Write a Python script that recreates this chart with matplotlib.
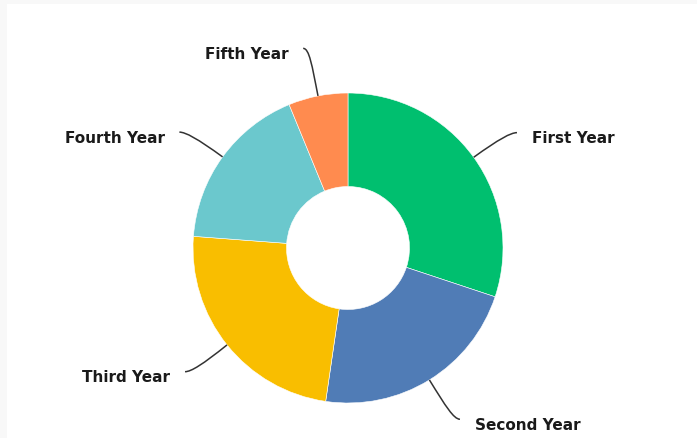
import numpy as np
import matplotlib
matplotlib.use("Agg")
import matplotlib.pyplot as plt
from matplotlib.path import Path
from matplotlib.patches import PathPatch

# ── Data ─────────────────────────────────────────────────────────────────────
LABELS = ["First Year", "Second Year", "Third Year", "Fourth Year", "Fifth Year"]
VALUES = [30.1, 22.2, 23.9, 17.6, 6.2]
COLORS = ["#00bf6f", "#507cb6", "#f9be00", "#6bc8cd", "#ff8b4f"]

# ── Layout (pixel based, R = outer radius) ───────────────────────────────────
W, H, DPI = 697, 438, 100
CX, CY, R_PX, HOLE_PX = 348, 248, 155, 61.5

fig = plt.figure(figsize=(W / DPI, H / DPI), dpi=DPI, facecolor="#f8f8f8")
# white card with a thin grey margin on the top and left
bg = fig.add_axes([7 / W, 0, 1 - 7 / W, (H - 4) / H])
bg.set_facecolor("white")
bg.set_xticks([])
bg.set_yticks([])
for sp in bg.spines.values():
    sp.set_visible(False)

ax = fig.add_axes([0, 0, 1, 1])
ax.set_facecolor("none")
ax.axis("off")

wedges, _ = ax.pie(VALUES, colors=COLORS, startangle=90, counterclock=False,
                   radius=1, wedgeprops=dict(width=1 - HOLE_PX / R_PX,
                                             edgecolor="white", linewidth=0.4))
ax.set_xlim(-CX / R_PX, (W - CX) / R_PX)
ax.set_ylim(-(H - CY) / R_PX, CY / R_PX)
ax.set_aspect("auto")

# ── Curved leader lines + labels ─────────────────────────────────────────────
for w, lab in zip(wedges, LABELS):
    mid_deg = (w.theta1 + w.theta2) / 2
    mid = np.deg2rad(mid_deg)
    c, s = np.cos(mid), np.sin(mid)
    side = 1 if c >= 0 else -1
    # end point slightly rotated toward the horizontal
    end_ang = np.deg2rad(mid_deg + (-1.5 * np.sign(s) if side > 0 else 1.5 * np.sign(s)))
    p3 = (1.32 * np.cos(end_ang), 1.32 * np.sin(end_ang))
    p0 = (c, s)
    p1 = (1.2 * c, 1.2 * s)
    p2 = (p3[0] - side * 0.04, p3[1])
    path = Path([p0, p1, p2, p3], [Path.MOVETO, Path.CURVE4, Path.CURVE4, Path.CURVE4])
    ax.add_patch(PathPatch(path, facecolor="none", edgecolor="#333333", lw=1.1))
    ax.text(p3[0] + side * 0.095, p3[1] - 0.04, lab,
            ha="left" if side > 0 else "right", va="center",
            fontsize=11, fontweight="bold", family="DejaVu Sans", color="#1a1a1a")

fig.savefig("out.png", dpi=DPI, facecolor=fig.get_facecolor())
